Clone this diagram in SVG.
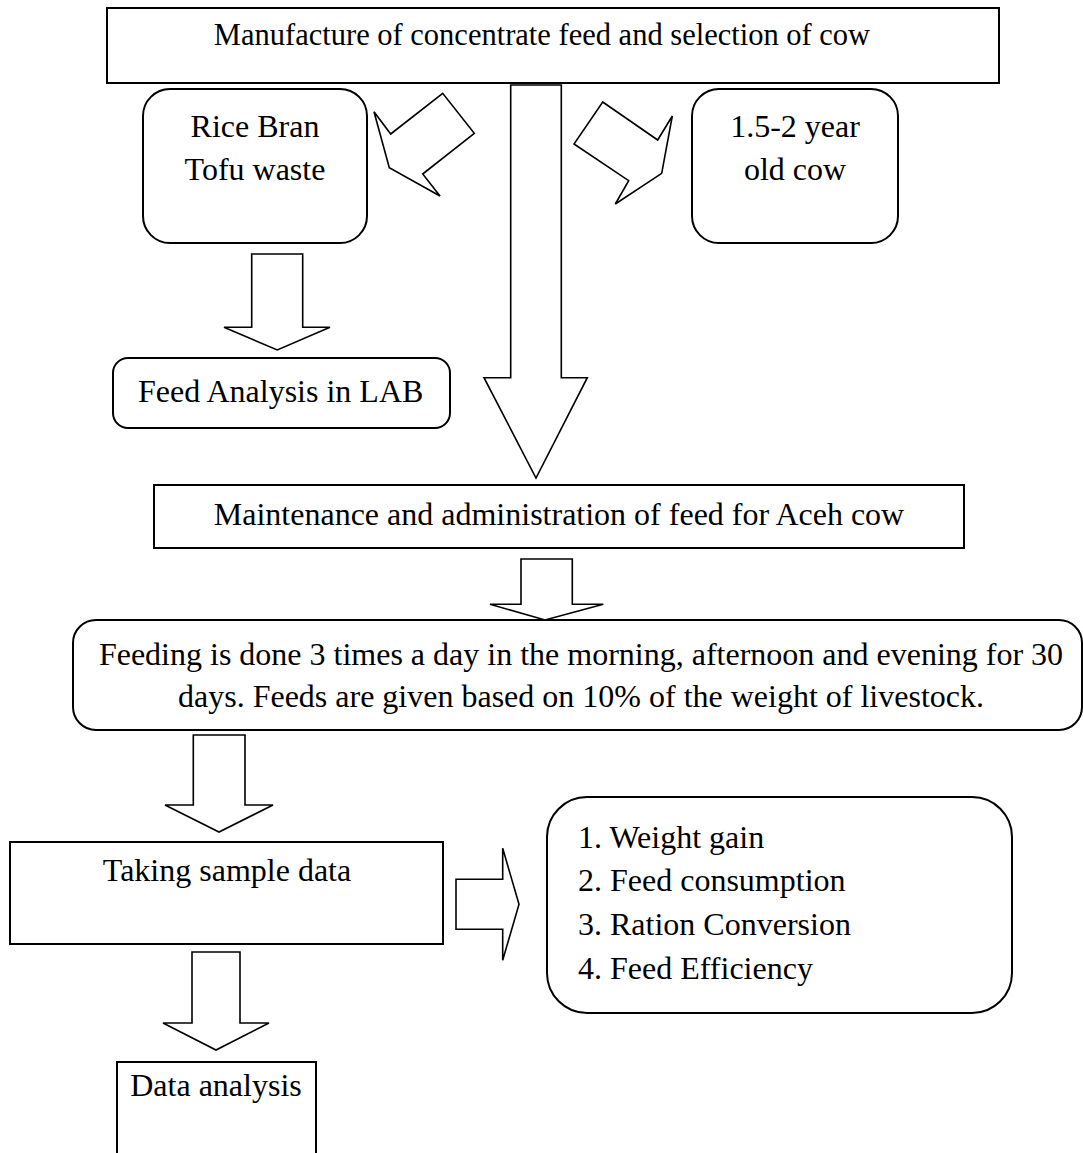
<svg xmlns="http://www.w3.org/2000/svg" width="1083" height="1153" viewBox="0 0 1083 1153">
<style>
.box{fill:#fff;stroke:#000;stroke-width:2}
.arr{fill:#fff;stroke:#000;stroke-width:1.6;stroke-linejoin:miter}
text{font-family:"Liberation Serif","Times New Roman",serif;font-size:32px;fill:#000}
.c{text-anchor:middle}
</style>
<rect width="1083" height="1153" fill="#fff"/>
<g id="n-top"><rect class="box" x="107" y="8" width="892" height="75"/><text class="c" x="542" y="45" style="font-size:30.5px">Manufacture of concentrate feed and selection of cow</text></g>
<g id="n-rice"><rect class="box" x="143" y="89" width="224" height="154" rx="27"/><text class="c" x="255" y="137">Rice Bran</text><text class="c" x="255" y="180">Tofu waste</text></g>
<g id="n-cow"><rect class="box" x="692" y="89" width="206" height="154" rx="27"/><text class="c" x="795" y="137">1.5-2 year</text><text class="c" x="795" y="180">old cow</text></g>
<g id="n-lab"><rect class="box" x="113" y="358" width="337" height="70" rx="15"/><text x="138" y="402">Feed Analysis in LAB</text></g>
<g id="n-maint"><rect class="box" x="154" y="485" width="810" height="63"/><text class="c" x="559" y="525">Maintenance and administration of feed for Aceh cow</text></g>
<g id="n-feed"><rect class="box" x="73" y="620" width="1009" height="110" rx="23"/><text class="c" x="581" y="665">Feeding is done 3 times a day in the morning, afternoon and evening for 30</text><text class="c" x="581" y="707">days. Feeds are given based on 10% of the weight of livestock.</text></g>
<g id="n-sample"><rect class="box" x="10" y="842" width="433" height="102"/><text class="c" x="227" y="881">Taking sample data</text></g>
<g id="n-list"><rect class="box" x="547" y="797" width="465" height="216" rx="40"/><text x="578" y="848">1. Weight gain</text><text x="578" y="891">2. Feed consumption</text><text x="578" y="935">3. Ration Conversion</text><text x="578" y="979">4. Feed Efficiency</text></g>
<g id="n-data"><rect class="box" x="117" y="1062" width="199" height="95"/><text class="c" x="216" y="1096">Data analysis</text></g>
<g id="connectors">
<polygon class="arr" points="374,111.7 390.7,134 442.7,93.3 474.3,133.3 422.7,174 440,196 389.3,167.7"/>
<polygon class="arr" points="602.7,102 657.7,140 672.3,116 661.7,173.3 615.3,204 628.7,180.7 574,144"/>
<polygon class="arr" points="510.7,85 561.3,85 561.3,377.7 587.3,377.7 536,478 484,377.7 510.7,377.7"/>
<polygon class="arr" points="251.7,254 302.7,254 302.7,327.3 330,327.3 277.3,350 224,327.3 251.7,327.3"/>
<polygon class="arr" points="521,559 572.3,559 572.3,604.3 603.3,604.3 545,620 490,604.3 521,604.3"/>
<polygon class="arr" points="193.3,735 245,735 245,805 273,805 219,832 165,805 193.3,805"/>
<polygon class="arr" points="456,879.3 502.7,879.3 502.7,848.3 519,904.3 502.7,960.3 502.7,929.3 456,929.3"/>
<polygon class="arr" points="192,952 240,952 240,1023 269,1023 216,1050 163,1023 192,1023"/>
</g>
</svg>
